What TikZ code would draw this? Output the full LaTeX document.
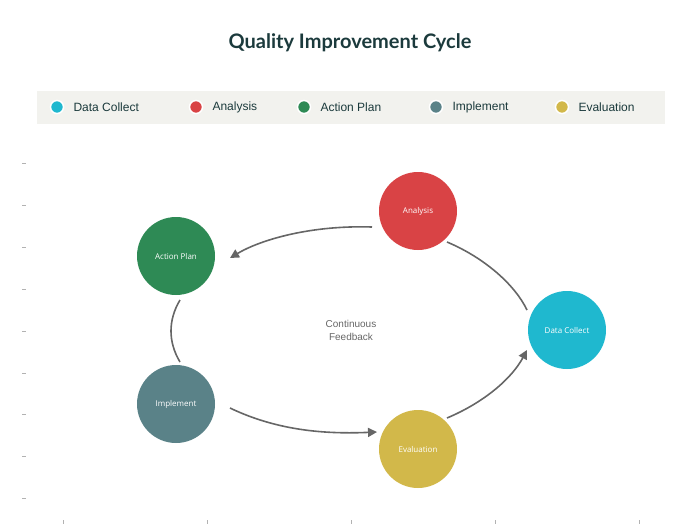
\documentclass[tikz,border=0pt]{standalone}
\usepackage{fontspec}
\setmainfont{Liberation Sans}
\newfontfamily\titlefont{Lato}
\newfontfamily\nodefont{Open Sans}
\usetikzlibrary{arrows.meta}
\definecolor{cDC}{HTML}{1FB8CF}
\definecolor{cAN}{HTML}{D94345}
\definecolor{cAP}{HTML}{2E8A55}
\definecolor{cIM}{HTML}{5A8288}
\definecolor{cEV}{HTML}{D2B84A}
\definecolor{ttl}{HTML}{1B3A3C}
\definecolor{legbg}{HTML}{F2F2EE}
\definecolor{arr}{HTML}{666666}
\begin{document}
\begin{tikzpicture}[x=1pt,y=-1pt,
  stage/.style={circle,minimum size=78pt,inner sep=0pt,text=white,font=\nodefont\fontsize{8}{9}\selectfont},
  conn/.style={draw=arr,line width=1.6pt},
  tip/.style={-{Triangle[length=9pt,width=9pt]}},
  legdot/.style={circle,draw=white,line width=1.5pt,minimum size=13pt,inner sep=0pt},
  legtxt/.style={anchor=west,text=ttl,font=\fontsize{12}{14}\selectfont},
  tick/.style={draw=gray!60,line width=0.4pt}]
\useasboundingbox (0,0) rectangle (700,525);
\node[font=\titlefont\bfseries\fontsize{20}{24}\selectfont,text=ttl] (title) at (350,43) {Quality Improvement Cycle};
\fill[legbg] (37,91) rectangle (665,124);
\node[legdot,fill=cDC] (l1) at (57,107) {}; \node[legtxt] (t1) at (70,107) {Data Collect};
\node[legdot,fill=cAN] (l2) at (196,107) {}; \node[legtxt] (t2) at (209,107) {Analysis};
\node[legdot,fill=cAP] (l3) at (304,107) {}; \node[legtxt] (t3) at (317,107) {Action Plan};
\node[legdot,fill=cIM] (l4) at (436,107) {}; \node[legtxt] (t4) at (449,107) {Implement};
\node[legdot,fill=cEV] (l5) at (562,107) {}; \node[legtxt] (t5) at (575,107) {Evaluation};
\foreach \y in {163,205,247,289,331,373,414,456,498} \draw[tick] (22,\y) -- (26,\y);
\foreach \x in {63,207,351,495,639} \draw[tick] (\x,520) -- (\x,524);
\node[stage,fill=cAN] (an) at (418,211) {Analysis};
\node[stage,fill=cAP] (ap) at (176,256) {Action Plan};
\node[stage,fill=cDC] (dc) at (567,330) {Data Collect};
\node[stage,fill=cIM] (im) at (176,404) {Implement};
\node[stage,fill=cEV] (ev) at (418,449) {Evaluation};
\node[text=arr,align=center,font=\fontsize{10}{13}\selectfont] (cf) at (351,330) {Continuous\\Feedback};
\coordinate (a1) at (372,227); \coordinate (a2) at (230,258);
\coordinate (b1) at (447,242); \coordinate (b2) at (527,310);
\coordinate (c1) at (180,300); \coordinate (c2) at (180,362);
\coordinate (d1) at (230,408); \coordinate (d2) at (377,432);
\coordinate (e1) at (447,418); \coordinate (e2) at (527,350);
\draw[conn,tip] (a1) .. controls (310,225) and (260,240) .. (a2);
\draw[conn] (b1) .. controls (485,258) and (515,285) .. (b2);
\draw[conn] (c1) .. controls (168,320) and (168,342) .. (c2);
\draw[conn,tip] (d1) .. controls (280,432) and (330,434) .. (d2);
\draw[conn,tip] (e1) .. controls (485,402) and (512,378) .. (e2);
\end{tikzpicture}
\end{document}
